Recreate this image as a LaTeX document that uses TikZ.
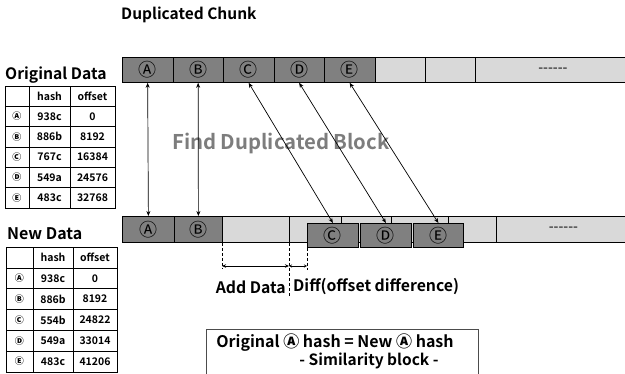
\documentclass[tikz,border=0pt]{standalone}
\usepackage{fontspec}
\setmainfont{Noto Sans CJK KR}[BoldFont={Noto Sans CJK KR Bold}]
\newfontfamily\circfont{Noto Sans CJK KR}
\usetikzlibrary{arrows.meta}

\definecolor{dupgray}{RGB}{128,128,128}
\definecolor{freegray}{RGB}{217,217,217}
\definecolor{titlegray}{RGB}{125,125,125}

\begin{document}
\begin{tikzpicture}[x=1pt,y=-1pt]
\tikzset{
  dup block/.style={draw,fill=dupgray,line width=.8pt,inner sep=0pt,anchor=north west,font=\circfont\fontsize{18}{18}\selectfont},
  free block/.style={draw,fill=freegray,line width=.8pt,inner sep=0pt,anchor=north west,font=\fontsize{14}{14}\selectfont},
  tcell/.style={draw,line width=.5pt,inner sep=0pt,font=\bfseries\fontsize{10.5}{10.5}\selectfont},
  link/.style={line width=.7pt,{Stealth[length=5pt,width=4pt]}-{Stealth[length=5pt,width=4pt]}},
  cut/.style={densely dashed,line width=.6pt},
  head/.style={font=\bfseries\fontsize{#1}{#1}\selectfont,inner sep=0pt}
}
\useasboundingbox (0,0) rectangle (625,374);

% titles
\node[head=15.5,anchor=west] (title) at (121,15) {Duplicated Chunk};
\node[head=15.7,anchor=west] (origtitle) at (5,75) {Original Data};
\node[head=16,anchor=west] (newtitle) at (7,234) {New Data};
\node[head=20.3,anchor=west,text=titlegray] (find) at (172,143) {Find Duplicated Block};

% original chunk row
\foreach \l [count=\i] in {Ⓐ,Ⓑ,Ⓒ,Ⓓ,Ⓔ}{
    \node[dup block,minimum width=50.5pt,minimum height=25pt] (o\i) at (122+50.5*\i-50.5,57) {\l};
}
\node[free block,minimum width=50pt,minimum height=25pt] (o6) at (374.5,57) {};
\node[free block,minimum width=50.5pt,minimum height=25pt] (o7) at (424.5,57) {};
\node[free block,minimum width=155pt,minimum height=25pt] (o8) at (475,57) {-{}-{}-{}-{}-{}-};

% new chunk row
\node[dup block,minimum width=52pt,minimum height=26pt] (n1) at (122,216) {Ⓐ};
\node[dup block,minimum width=48pt,minimum height=26pt] (n2) at (174,216) {Ⓑ};
\node[free block,minimum width=67pt,minimum height=26pt] (g1) at (222,216) {};
\node[free block,minimum width=52pt,minimum height=26pt] (g2) at (289,216) {};
\node[free block,minimum width=50pt,minimum height=26pt] (g3) at (341,216) {};
\node[free block,minimum width=57pt,minimum height=26pt] (g4) at (391,216) {};
\node[free block,minimum width=48pt,minimum height=26pt] (g5) at (448,216) {};
\node[free block,minimum width=134pt,minimum height=26pt] (g6) at (496,216) {-{}-{}-{}-{}-{}-};
\node[dup block,minimum width=51pt,minimum height=24pt] (n3) at (307,223) {Ⓒ};
\node[dup block,minimum width=51pt,minimum height=24pt] (n4) at (360,223) {Ⓓ};
\node[dup block,minimum width=50pt,minimum height=24pt] (n5) at (413,223) {Ⓔ};

% matching blocks
\foreach \i in {1,...,5}{
    \draw[link] (o\i.south) -- (n\i.north);
}

% shift of the moved blocks
\coordinate (d1) at (222,268);
\coordinate (d2) at (289,296);
\coordinate (d3) at (307,270);
\draw[cut] (g1.south west) -- (d1);
\draw[cut] (g2.south west) -- (d2);
\draw[cut] (n3.south west) -- (d3);
\coordinate (a1) at (222,266);
\coordinate (a2) at (289,266);
\coordinate (a3) at (307,266);
\draw[line width=.6pt,{Stealth[length=4pt,width=3.5pt,open]}-{Stealth[length=4pt,width=3.5pt,open]}] (a1) -- (a2);
\draw[line width=.6pt,{Stealth[length=3pt,width=3pt,open]}-{Stealth[length=3pt,width=3pt,open]}] (a2) -- (a3);
\node[head=15.8,anchor=east] (adddata) at (286,287) {Add Data};
\node[head=15.8,anchor=west] (diff) at (293,287) {Diff(offset difference)};

% hash tables
\foreach \l/\h/\o [count=\i from 0] in {{}/hash/offset,Ⓐ/938c/0,Ⓑ/886b/8192,Ⓒ/767c/16384,Ⓓ/549a/24576,Ⓔ/483c/32768}{
    \node[tcell,minimum width=24pt,minimum height=20.33pt] (ol\i) at (17,96.17+20.33*\i) {\circfont\fontsize{9}{9}\selectfont\l};
    \node[tcell,minimum width=41pt,minimum height=20.33pt] (oh\i) at (49.5,96.17+20.33*\i) {\h};
    \node[tcell,minimum width=45pt,minimum height=20.33pt] (oo\i) at (92.5,96.17+20.33*\i) {\o};
}
\foreach \l/\h/\o [count=\i from 0] in {{}/hash/offset,Ⓐ/938c/0,Ⓑ/886b/8192,Ⓒ/554b/24822,Ⓓ/549a/33014,Ⓔ/483c/41206}{
    \node[tcell,minimum width=27pt,minimum height=20.83pt] (nl\i) at (19.5,257.42+20.83*\i) {\circfont\fontsize{9}{9}\selectfont\l};
    \node[tcell,minimum width=40pt,minimum height=20.83pt] (nh\i) at (53,257.42+20.83*\i) {\h};
    \node[tcell,minimum width=44pt,minimum height=20.83pt] (no\i) at (95,257.42+20.83*\i) {\o};
}

% note box
\node[draw=black!70,line width=.8pt,minimum width=272pt,minimum height=47pt,inner sep=0pt,anchor=north west] (note) at (206,329) {};
\node[head=16] (note1) at (335,343) {Original {\circfont Ⓐ} hash = New {\circfont Ⓐ} hash};
\node[head=15.5] (note2) at (369,361) {- Similarity block -};
\end{tikzpicture}
\end{document}
